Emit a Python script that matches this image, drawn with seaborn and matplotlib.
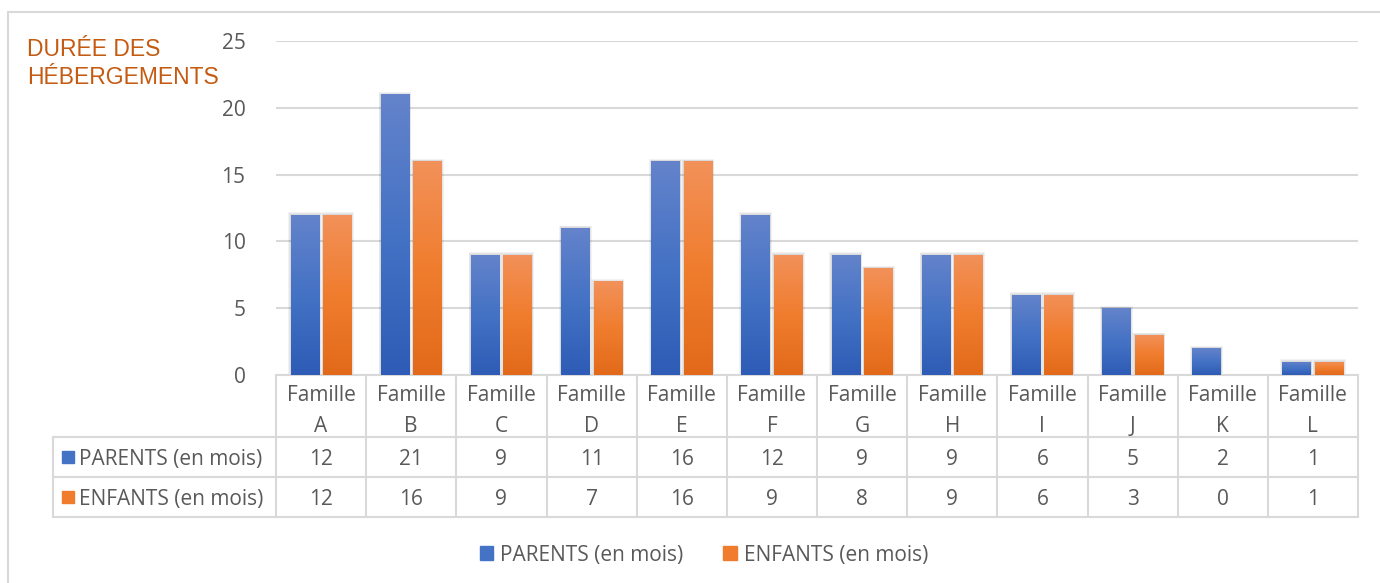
import matplotlib.pyplot as plt
import numpy as np
import pandas as pd
import seaborn as sns
from matplotlib.colors import LinearSegmentedColormap
from matplotlib.lines import Line2D
from matplotlib.patches import Patch, Rectangle
from matplotlib.transforms import blended_transform_factory

# Data
familles = ["Famille A", "Famille B", "Famille C", "Famille D", "Famille E",
            "Famille F", "Famille G", "Famille H", "Famille I", "Famille J",
            "Famille K", "Famille L"]
parents = [12, 21, 9, 11, 16, 12, 9, 9, 6, 5, 2, 1]
enfants = [12, 16, 9, 7, 16, 9, 8, 9, 6, 3, 0, 1]
series = ["PARENTS (en mois)", "ENFANTS (en mois)"]
y_ticks = [0, 5, 10, 15, 20, 25]
title = "DURÉE DES\nHÉBERGEMENTS"

# Colours: (top of gradient, bottom of gradient, mid/legend)
BLUE = ("#6483CB", "#2E5CB6", "#4472C4")
ORANGE = ("#F2915A", "#E2691A", "#F07D2E")
GRID = "#D9D9D9"
TEXT = "#595959"
FS = 15

sns.set_style("white")
plt.rcParams["font.family"] = ["Open Sans", "DejaVu Sans"]

df = pd.DataFrame({
    "famille": familles * 2,
    "valeur": parents + enfants,
    "serie": [series[0]] * len(familles) + [series[1]] * len(familles),
})

fig = plt.figure(figsize=(13.8, 5.83), dpi=100)
ax = fig.add_axes([276 / 1380, 1 - 375 / 583, 1082 / 1380, 334 / 583])

sns.barplot(data=df, x="famille", y="valeur", hue="serie",
            palette=[BLUE[2], ORANGE[2]], saturation=1,
            width=0.72, gap=0.12, legend=False, ax=ax, zorder=3,
            linewidth=0, edgecolor="none")

# Gradient fill + soft shadow for each bar
for cont, cols in zip(ax.containers, [BLUE, ORANGE]):
    cmap = LinearSegmentedColormap.from_list("g", [cols[1], cols[2], cols[0]])
    grad = np.linspace(0, 1, 256).reshape(-1, 1)
    for bar in cont:
        x, w, h = bar.get_x(), bar.get_width(), bar.get_height()
        if h <= 0:
            continue
        for k in range(1, 4):
            dx = 0.008 * k
            ax.add_patch(Rectangle((x - dx, 0), w + 2 * dx, h + 0.06 * k,
                                   color="#000000", alpha=0.05, lw=0,
                                   zorder=2))
        im = ax.imshow(grad, cmap=cmap, origin="lower", aspect="auto",
                       extent=[x, x + w, 0, h], zorder=3)
        im.set_clip_path(bar)

ax.set_ylim(0, 25)
ax.set_xlim(-0.5, len(familles) - 0.5)

ax.set_yticks(y_ticks)
ax.tick_params(axis="y", length=0, pad=22, labelsize=FS, labelcolor=TEXT)
ax.set_xticks([])
ax.set_xlabel("")
ax.set_ylabel("")
ax.grid(axis="y", color=GRID, linewidth=1.5, zorder=0)
ax.set_axisbelow(True)
for side in ["top", "right", "left"]:
    ax.spines[side].set_visible(False)
ax.spines["bottom"].set_color(GRID)
ax.spines["bottom"].set_linewidth(1.5)

# Data table under the chart
trans = blended_transform_factory(ax.transData, ax.transAxes)
y_head = -0.1856
y_row1 = -0.305
y_row2 = -0.425
x_left = -0.206
shift = -0.009  # visual centring of digits
line_kw = dict(color=GRID, lw=1.5, clip_on=False)

for i in range(len(familles) + 1):
    ax.plot([i - 0.5, i - 0.5], [0, y_row2], transform=trans, **line_kw)
for yy in [y_head, y_row1, y_row2]:
    ax.plot([x_left, 0], [yy, yy], transform=ax.transAxes, **line_kw)
    ax.plot([-0.5, len(familles) - 0.5], [yy, yy], transform=trans, **line_kw)
ax.plot([x_left, x_left], [y_head, y_row2], transform=ax.transAxes, **line_kw)

for i, fam in enumerate(familles):
    word, letter = fam.split(" ")
    ax.text(i, -0.062, word, transform=trans, ha="center", va="center",
            fontsize=FS, color=TEXT)
    ax.text(i, -0.153, letter, transform=trans, ha="center", va="center",
            fontsize=FS, color=TEXT)
    ax.text(i, (y_head + y_row1) / 2 + shift, str(parents[i]), transform=trans,
            ha="center", va="center", fontsize=FS, color=TEXT)
    ax.text(i, (y_row1 + y_row2) / 2 + shift, str(enfants[i]), transform=trans,
            ha="center", va="center", fontsize=FS, color=TEXT)

for (lo, hi), name, col in zip([(y_head, y_row1), (y_row1, y_row2)], series,
                               [BLUE[2], ORANGE[2]]):
    mid = (lo + hi) / 2
    ax.add_patch(Rectangle((-0.1978, mid - 0.019), 0.0115, 0.038,
                           transform=ax.transAxes, color=col, clip_on=False))
    ax.text(-0.182, mid + shift, name, transform=ax.transAxes, ha="left",
            va="center", fontsize=FS, color=TEXT)

# Title
fig.text(27 / 1380, 1 - 38 / 583, title, ha="left", va="top",
         fontsize=16.5, color="#C55A11", family=["Liberation Sans", "DejaVu Sans"],
         linespacing=1.28)

# Legend
handles = [Patch(color=BLUE[2]), Patch(color=ORANGE[2])]
fig.legend(handles, series, loc="center", ncol=2, frameon=False,
           bbox_to_anchor=(704 / 1380, 1 - 555 / 583), fontsize=FS,
           labelcolor=TEXT, handlelength=0.65, handleheight=0.65,
           handletextpad=0.35, columnspacing=1.9)

# Outer frame
fig.add_artist(Line2D([8 / 1380, 8 / 1380], [0, 1 - 12 / 583],
                      transform=fig.transFigure, color=GRID, lw=1.5))
fig.add_artist(Line2D([8 / 1380, 1], [1 - 12 / 583, 1 - 12 / 583],
                      transform=fig.transFigure, color=GRID, lw=1.5))

fig.savefig("out.png", dpi=100)
